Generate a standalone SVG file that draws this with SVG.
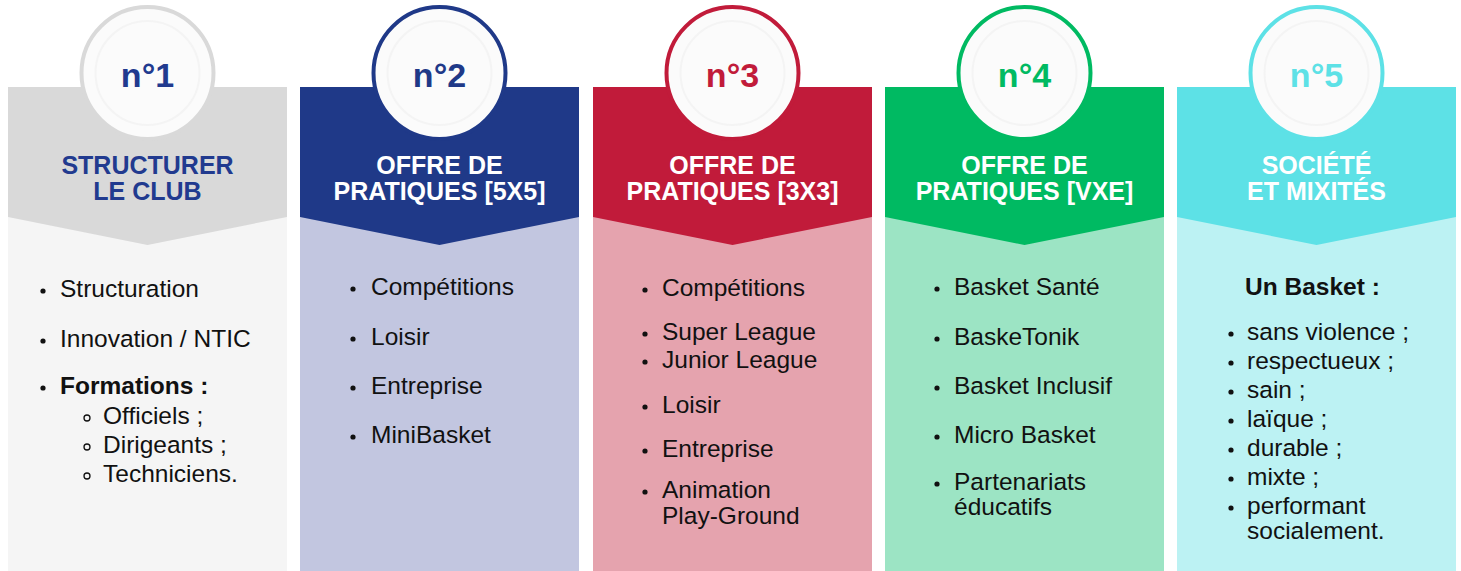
<svg xmlns="http://www.w3.org/2000/svg" width="1461" height="571" viewBox="0 0 1461 571">
<style>
.num{font-family:"Liberation Sans",Arial,sans-serif;font-weight:bold;font-size:34px;text-anchor:middle}
.hd{font-family:"Liberation Sans",Arial,sans-serif;font-weight:bold;font-size:25px;text-anchor:middle;fill:#ffffff}
.tx{font-family:"Liberation Sans",Arial,sans-serif;font-size:24.5px;fill:#111111}
.b{font-weight:bold}
.dot{fill:#111111}
.odot{fill:none;stroke:#111111;stroke-width:1.3}
.inner{fill:#fbfbfb}
.pat{fill:none;stroke:#f4f4f4;stroke-width:2}
</style>
<rect width="1461" height="571" fill="#ffffff"/>

<g id="col1">
  <rect x="8" y="217" width="279" height="354" fill="#f5f5f5"/>
  <polygon points="8,87 287,87 287,217 147.5,245 8,217" fill="#d9d9d9"/>
  <circle cx="147.5" cy="73" r="66" class="inner" stroke="#d9d9d9" stroke-width="4"/>
  <circle cx="147.5" cy="73" r="52" class="pat"/>
  <text x="147.5" y="87" class="num" fill="#213a8f">n°1</text>
  <text x="147.5" y="174" class="hd" style="fill:#213a8f">STRUCTURER</text>
  <text x="147.5" y="200" class="hd" style="fill:#213a8f">LE CLUB</text>
  <circle cx="43" cy="291" r="2.6" class="dot"/>
  <text x="60" y="297" class="tx">Structuration</text>
  <circle cx="43" cy="341" r="2.6" class="dot"/>
  <text x="60" y="347" class="tx">Innovation / NTIC</text>
  <circle cx="43" cy="388" r="2.6" class="dot"/>
  <text x="60" y="394" class="tx b">Formations :</text>
  <circle cx="87" cy="418" r="3" class="odot"/>
  <text x="103" y="424" class="tx">Officiels ;</text>
  <circle cx="87" cy="447" r="3" class="odot"/>
  <text x="103" y="453" class="tx">Dirigeants ;</text>
  <circle cx="87" cy="476" r="3" class="odot"/>
  <text x="103" y="482" class="tx">Techniciens.</text>
</g>

<g id="col2">
  <rect x="300" y="217" width="279" height="354" fill="#c2c6e0"/>
  <polygon points="300,87 579,87 579,217 439.5,245 300,217" fill="#1f3988"/>
  <circle cx="439.5" cy="73" r="66" class="inner" stroke="#1f3988" stroke-width="4"/>
  <circle cx="439.5" cy="73" r="52" class="pat"/>
  <text x="439.5" y="87" class="num" fill="#1f3988">n°2</text>
  <text x="439.5" y="174" class="hd">OFFRE DE</text>
  <text x="439.5" y="200" class="hd">PRATIQUES [5X5]</text>
  <circle cx="353" cy="289" r="2.6" class="dot"/>
  <text x="371" y="295" class="tx">Compétitions</text>
  <circle cx="353" cy="339" r="2.6" class="dot"/>
  <text x="371" y="345" class="tx">Loisir</text>
  <circle cx="353" cy="388" r="2.6" class="dot"/>
  <text x="371" y="394" class="tx">Entreprise</text>
  <circle cx="353" cy="437" r="2.6" class="dot"/>
  <text x="371" y="443" class="tx">MiniBasket</text>
</g>

<g id="col3">
  <rect x="593" y="217" width="279" height="354" fill="#e5a3ae"/>
  <polygon points="593,87 872,87 872,217 732.5,245 593,217" fill="#c11b3a"/>
  <circle cx="732.5" cy="73" r="66" class="inner" stroke="#c11b3a" stroke-width="4"/>
  <circle cx="732.5" cy="73" r="52" class="pat"/>
  <text x="732.5" y="87" class="num" fill="#c11b3a">n°3</text>
  <text x="732.5" y="174" class="hd">OFFRE DE</text>
  <text x="732.5" y="200" class="hd">PRATIQUES [3X3]</text>
  <circle cx="645" cy="290" r="2.6" class="dot"/>
  <text x="662" y="296" class="tx">Compétitions</text>
  <circle cx="645" cy="334" r="2.6" class="dot"/>
  <text x="662" y="340" class="tx">Super League</text>
  <circle cx="645" cy="362" r="2.6" class="dot"/>
  <text x="662" y="368" class="tx">Junior League</text>
  <circle cx="645" cy="407" r="2.6" class="dot"/>
  <text x="662" y="413" class="tx">Loisir</text>
  <circle cx="645" cy="451" r="2.6" class="dot"/>
  <text x="662" y="457" class="tx">Entreprise</text>
  <circle cx="645" cy="492" r="2.6" class="dot"/>
  <text x="662" y="498" class="tx">Animation</text>
  <text x="662" y="524" class="tx">Play-Ground</text>
</g>

<g id="col4">
  <rect x="885" y="217" width="279" height="354" fill="#9ce4c4"/>
  <polygon points="885,87 1164,87 1164,217 1024.5,245 885,217" fill="#00ba62"/>
  <circle cx="1024.5" cy="73" r="66" class="inner" stroke="#00ba62" stroke-width="4"/>
  <circle cx="1024.5" cy="73" r="52" class="pat"/>
  <text x="1024.5" y="87" class="num" fill="#00ba62">n°4</text>
  <text x="1024.5" y="174" class="hd">OFFRE DE</text>
  <text x="1024.5" y="200" class="hd">PRATIQUES [VXE]</text>
  <circle cx="937" cy="289" r="2.6" class="dot"/>
  <text x="954" y="295" class="tx">Basket Santé</text>
  <circle cx="937" cy="339" r="2.6" class="dot"/>
  <text x="954" y="345" class="tx">BaskeTonik</text>
  <circle cx="937" cy="388" r="2.6" class="dot"/>
  <text x="954" y="394" class="tx">Basket Inclusif</text>
  <circle cx="937" cy="437" r="2.6" class="dot"/>
  <text x="954" y="443" class="tx">Micro Basket</text>
  <circle cx="937" cy="484" r="2.6" class="dot"/>
  <text x="954" y="490" class="tx">Partenariats</text>
  <text x="954" y="515" class="tx">éducatifs</text>
</g>

<g id="col5">
  <rect x="1177" y="217" width="279" height="354" fill="#bcf2f3"/>
  <polygon points="1177,87 1456,87 1456,217 1316.5,245 1177,217" fill="#5de1e6"/>
  <circle cx="1316.5" cy="73" r="66" class="inner" stroke="#5de1e6" stroke-width="4"/>
  <circle cx="1316.5" cy="73" r="52" class="pat"/>
  <text x="1316.5" y="87" class="num" fill="#5de1e6">n°5</text>
  <text x="1316.5" y="174" class="hd">SOCIÉTÉ</text>
  <text x="1316.5" y="200" class="hd">ET MIXITÉS</text>
  <text x="1245" y="295" class="tx b">Un Basket :</text>
  <circle cx="1231" cy="334" r="2.6" class="dot"/>
  <text x="1247" y="340" class="tx">sans violence ;</text>
  <circle cx="1231" cy="363" r="2.6" class="dot"/>
  <text x="1247" y="369" class="tx">respectueux ;</text>
  <circle cx="1231" cy="392" r="2.6" class="dot"/>
  <text x="1247" y="398" class="tx">sain ;</text>
  <circle cx="1231" cy="421" r="2.6" class="dot"/>
  <text x="1247" y="427" class="tx">laïque ;</text>
  <circle cx="1231" cy="450" r="2.6" class="dot"/>
  <text x="1247" y="456" class="tx">durable ;</text>
  <circle cx="1231" cy="479" r="2.6" class="dot"/>
  <text x="1247" y="485" class="tx">mixte ;</text>
  <circle cx="1231" cy="508" r="2.6" class="dot"/>
  <text x="1247" y="514" class="tx">performant</text>
  <text x="1247" y="539" class="tx">socialement.</text>
</g>

<g id="connectors"/>
</svg>
